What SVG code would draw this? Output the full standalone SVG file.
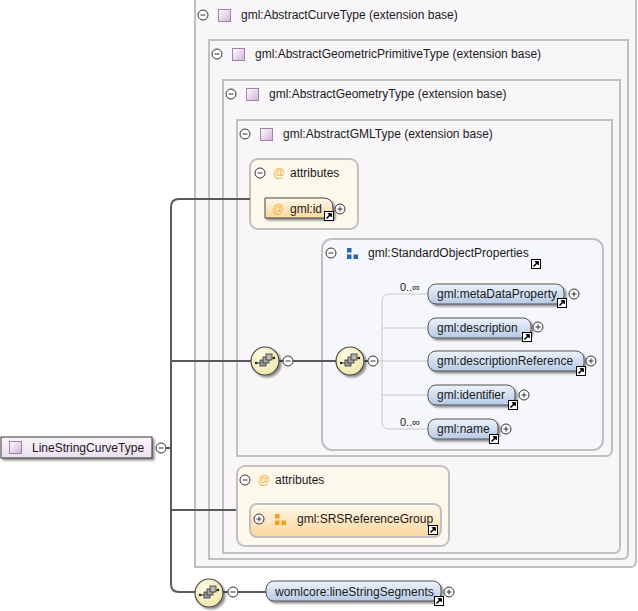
<svg xmlns="http://www.w3.org/2000/svg" width="638" height="611" viewBox="0 0 638 611">
<style>
text{font-family:"Liberation Sans",Arial,sans-serif;font-size:12px;fill:#1a1a1a}
.box{fill:#f9f6fa;stroke:#c2bfc3;stroke-width:2}
.sep{stroke:url(#sepG);stroke-width:2}
.conn{fill:none;stroke:#5a5a5a;stroke-width:2}
.tree{fill:none;stroke:#c8c8c8;stroke-width:1}
.pill{fill:url(#blueG);stroke:#555;stroke-width:1}
.att{fill:#fdf8ec;stroke:#c2bfc3;stroke-width:2}
.at{fill:#f0b040;font-size:12px}
.mult{font-size:11px}
</style>
<defs>
<linearGradient id="sepG" x1="0" x2="1" y1="0" y2="0"><stop offset="0" stop-color="#e2e0e2" stop-opacity="0.3"/><stop offset="0.3" stop-color="#dedcde"/><stop offset="1" stop-color="#dedcde" stop-opacity="0"/></linearGradient>
<linearGradient id="purG" x1="0" y1="0" x2="1" y2="1"><stop offset="0" stop-color="#ffffff"/><stop offset="1" stop-color="#cfb2d6"/></linearGradient>
<linearGradient id="typeG" x1="0" y1="0" x2="0" y2="1"><stop offset="0" stop-color="#faf5fb"/><stop offset="1" stop-color="#ecdff0"/></linearGradient>
<linearGradient id="blueG" x1="0" y1="0" x2="0" y2="1"><stop offset="0" stop-color="#eef3fb"/><stop offset="1" stop-color="#b5c9e6"/></linearGradient>
<linearGradient id="orG" x1="0" y1="0" x2="0" y2="1"><stop offset="0" stop-color="#fff9ee"/><stop offset="1" stop-color="#fbd699"/></linearGradient>
<radialGradient id="seqG" cx="0.4" cy="0.35" r="0.7"><stop offset="0" stop-color="#fefce8"/><stop offset="1" stop-color="#efe6a6"/></radialGradient>
<filter id="sh" x="-20%" y="-20%" width="150%" height="160%"><feGaussianBlur in="SourceAlpha" stdDeviation="0.8"/><feOffset dx="2" dy="2" result="o"/><feComponentTransfer><feFuncA type="linear" slope="0.45"/></feComponentTransfer><feMerge><feMergeNode/><feMergeNode in="SourceGraphic"/></feMerge></filter>
<g id="minus"><circle r="5" fill="#fff" stroke="#333" stroke-width="1"/><path d="M-2.5,0H2.5" stroke="#333" stroke-width="1"/></g>
<g id="plus"><circle r="5" fill="#fff" stroke="#333" stroke-width="1"/><path d="M-2.5,0H2.5M0,-2.5V2.5" stroke="#333" stroke-width="1"/></g>
<g id="lnk"><rect x="0.5" y="0.5" width="9" height="9" fill="#fff" stroke="#000"/><path d="M2.5,7.5L7,3" stroke="#000" stroke-width="1.6"/><path d="M4,2.5H7.5V6Z" fill="#000" stroke="#000" stroke-width="0.8"/></g>
<g id="ticon"><rect x="0.5" y="0.5" width="12" height="12" fill="url(#purG)" stroke="#a47fac"/></g>
<g id="seq"><circle r="14" fill="url(#seqG)" stroke="#4a4a4a" stroke-width="1.2" filter="url(#sh)"/><path d="M-9,2H-4M5,-3H9" stroke="#222" stroke-width="1"/><circle cx="-9" cy="2" r="1.2" fill="#222"/><circle cx="9" cy="-3" r="1.2" fill="#222"/><rect x="-5" y="-1" width="6" height="6" fill="#9a9a9a" stroke="#333" stroke-width="0.8"/><rect x="-2" y="-4" width="6" height="6" fill="#a8a8a8" stroke="#333" stroke-width="0.8"/><rect x="1" y="-7" width="6" height="6" fill="#b4b4b4" stroke="#333" stroke-width="0.8"/></g>
<g id="grpB"><rect x="0" y="0" width="4.5" height="4.5" fill="#2a66b0"/><rect x="0" y="6.5" width="4.5" height="4.5" fill="#2a66b0"/><rect x="6.5" y="6.5" width="4.5" height="4.5" fill="#2a66b0"/></g>
<g id="grpO"><rect x="0" y="0" width="4.5" height="4.5" fill="#eda020"/><rect x="0" y="6.5" width="4.5" height="4.5" fill="#eda020"/><rect x="6.5" y="6.5" width="4.5" height="4.5" fill="#eda020"/></g>
</defs>

<g id="box-AbstractCurveType">
<path class="box" d="M195,-1H636V561Q636,567 630,567H195Z"/>
<use href="#minus" x="203" y="15"/><use href="#ticon" x="218" y="9"/>
<text x="241" y="19">gml:AbstractCurveType (extension base)</text>
<path class="sep" d="M197,30H525"/>
</g>
<g id="box-AbstractGeometricPrimitiveType">
<path class="box" d="M209,40H628V553Q628,559 622,559H209Z"/>
<use href="#minus" x="217" y="54"/><use href="#ticon" x="232" y="48"/>
<text x="255" y="58">gml:AbstractGeometricPrimitiveType (extension base)</text>
<path class="sep" d="M211,69H525"/>
</g>
<g id="box-AbstractGeometryType">
<path class="box" d="M223,80H620V547Q620,553 614,553H223Z"/>
<use href="#minus" x="231" y="94"/><use href="#ticon" x="246" y="88"/>
<text x="269" y="98">gml:AbstractGeometryType (extension base)</text>
<path class="sep" d="M225,109H525"/>
</g>
<g id="box-AbstractGMLType">
<path class="box" d="M237,120H612V450Q612,456 606,456H237Z"/>
<use href="#minus" x="245" y="134"/><use href="#ticon" x="260" y="128"/>
<text x="283" y="138">gml:AbstractGMLType (extension base)</text>
<path class="sep" d="M239,149H525"/>
</g>

<g id="attributes-1">
<rect class="att" x="250" y="159" width="108" height="70" rx="8"/>
<use href="#minus" x="260" y="173"/>
<text class="at" x="273" y="177">@</text>
<text x="290" y="177">attributes</text>
<path class="sep" d="M254,187H345"/>
</g>
<g id="gml-id">
<path d="M265,198H323Q333,198 333,208V218H265Z" fill="url(#orG)" stroke="#444" stroke-width="1" filter="url(#sh)"/>
<text class="at" x="272" y="213">@</text>
<text x="290" y="213">gml:id</text>
<use href="#lnk" x="324" y="211"/>
<use href="#plus" x="340" y="209"/>
</g>

<g id="StandardObjectProperties">
<rect x="322" y="239" width="281" height="211" rx="10" fill="#f5f7fb" stroke="#c2bfc3" stroke-width="2"/>
<use href="#minus" x="331" y="253"/>
<use href="#grpB" x="347" y="248"/>
<text x="368" y="257">gml:StandardObjectProperties</text>
<use href="#lnk" x="531" y="259"/>
<path class="sep" d="M326,271H560"/>
</g>

<g id="connectors">
<path class="conn" d="M250,199H179Q171,199 171,207V584Q171,592 179,592H196"/>
<path class="conn" d="M166,448H171"/>
<path class="conn" d="M171,361H251"/>
<path class="conn" d="M171,510H237"/>
<path class="conn" d="M279,361H283"/>
<path class="conn" d="M293,361H336"/>
<path class="conn" d="M223,592H228"/>
<path class="conn" d="M238,592H266"/>
<path class="conn" d="M364,361H368"/>
<path class="tree" d="M428,294H390Q382,294 382,302V421Q382,429 390,429H428"/>
<path class="tree" d="M382,328H428M378,361H428M382,395H428"/>
</g>

<g id="LineStringCurveType">
<rect x="1" y="437" width="151" height="21" fill="url(#typeG)" stroke="#333" stroke-width="1" filter="url(#sh)"/>
<use href="#ticon" x="9" y="441"/>
<text x="32" y="452">LineStringCurveType</text>
<use href="#minus" x="161" y="448"/>
</g>

<g id="sequence-1"><use href="#seq" x="265" y="361"/><use href="#minus" x="288" y="361"/></g>
<g id="sequence-2"><use href="#seq" x="350" y="361"/><use href="#minus" x="373" y="361"/></g>

<g id="metaDataProperty">
<text class="mult" x="400" y="291">0..∞</text>
<rect class="pill" x="428" y="284" width="136" height="20" rx="8" filter="url(#sh)"/>
<text x="437" y="298">gml:metaDataProperty</text>
<use href="#lnk" x="557" y="298"/><use href="#plus" x="574" y="294"/>
</g>
<g id="description">
<rect class="pill" x="428" y="318" width="103" height="20" rx="8" filter="url(#sh)"/>
<text x="437" y="332">gml:description</text>
<use href="#lnk" x="522" y="332"/><use href="#plus" x="538" y="327"/>
</g>
<g id="descriptionReference">
<rect class="pill" x="428" y="351" width="156" height="20" rx="8" filter="url(#sh)"/>
<text x="437" y="365">gml:descriptionReference</text>
<use href="#lnk" x="576" y="366"/><use href="#plus" x="591" y="361"/>
</g>
<g id="identifier">
<rect class="pill" x="428" y="385" width="87" height="20" rx="8" filter="url(#sh)"/>
<text x="437" y="399">gml:identifier</text>
<use href="#lnk" x="508" y="400"/><use href="#plus" x="524" y="395"/>
</g>
<g id="name">
<text class="mult" x="400" y="426">0..∞</text>
<rect class="pill" x="428" y="419" width="70" height="20" rx="8" filter="url(#sh)"/>
<text x="437" y="433">gml:name</text>
<use href="#lnk" x="489" y="434"/><use href="#plus" x="506" y="429"/>
</g>

<g id="attributes-2">
<rect class="att" x="237" y="466" width="212" height="80" rx="8"/>
<use href="#minus" x="245" y="480"/>
<text class="at" x="258" y="484">@</text>
<text x="275" y="484">attributes</text>
<path class="sep" d="M241,495H400"/>
</g>
<g id="SRSReferenceGroup">
<rect x="250" y="504" width="191" height="33" rx="7" fill="url(#orG)" stroke="#c2bfc3" stroke-width="2"/>
<use href="#plus" x="259" y="519"/>
<use href="#grpO" x="275" y="514"/>
<text x="297" y="523">gml:SRSReferenceGroup</text>
<use href="#lnk" x="428" y="525"/>
</g>

<g id="sequence-3"><use href="#seq" x="209" y="593"/><use href="#minus" x="233" y="592"/></g>
<g id="lineStringSegments">
<rect class="pill" x="266" y="581" width="175" height="20" rx="8" filter="url(#sh)"/>
<text x="275" y="596">womlcore:lineStringSegments</text>
<use href="#lnk" x="434" y="596"/><use href="#plus" x="449" y="592"/>
</g>
</svg>
